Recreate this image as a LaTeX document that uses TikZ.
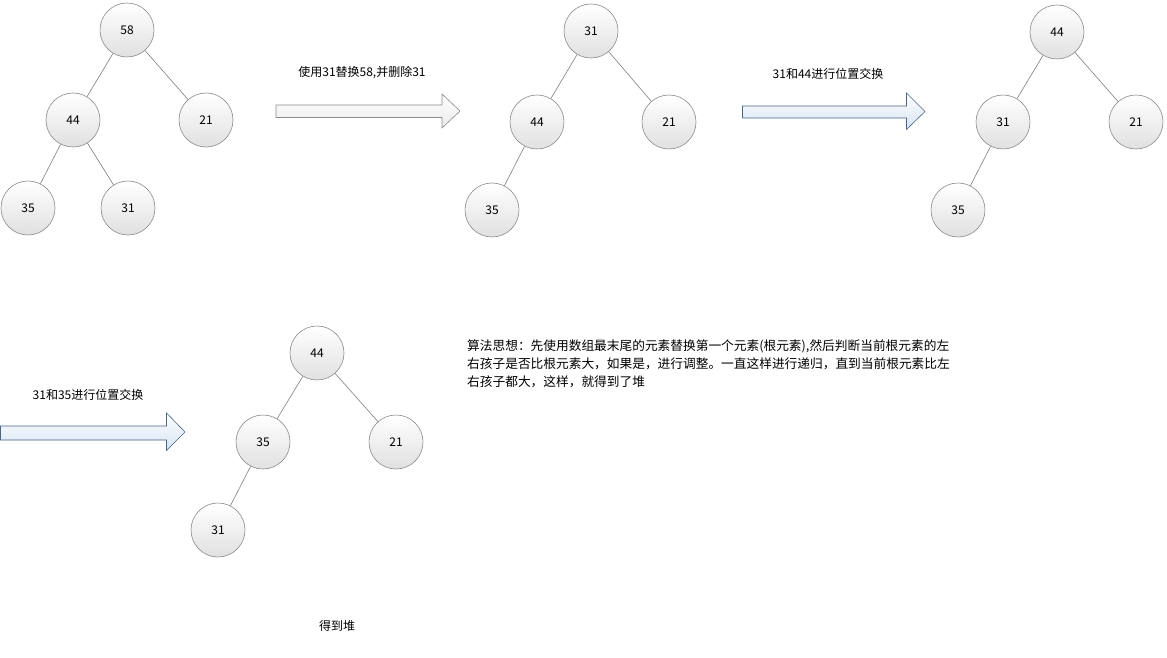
\documentclass[tikz,border=0pt]{standalone}
\usepackage{fontspec}
\setmainfont{Noto Sans CJK SC}
\definecolor{arrowborder}{RGB}{70,100,140}
\definecolor{arrowfill}{RGB}{214,227,243}
\begin{document}
\begin{tikzpicture}[x=1pt,y=-1pt,
  every node/.style={font=\fontsize{12}{18}\selectfont},
  hn/.style={circle,draw=black!45,line width=0.6pt,minimum size=54pt,inner sep=0pt,top color=white,bottom color=black!12},
  ed/.style={draw=black!50,line width=0.6pt},
  grayarrow/.style={draw=black!45,line width=0.6pt,top color=white,bottom color=black!8},
  bluearrow/.style={draw=arrowborder,line width=0.6pt,top color=white,bottom color=arrowfill},
  lbl/.style={inner sep=0pt}]
\useasboundingbox (0,0) rectangle (1167,658);
\fill[white] (0,0) rectangle (1167,658);
% tree 1
\node[hn] (a1) at (127,30) {58};
\node[hn] (a2) at (73,120) {44};
\node[hn] (a3) at (206,120) {21};
\node[hn] (a4) at (28,208) {35};
\node[hn] (a5) at (128,208) {31};
\draw[ed] (a1)--(a2); \draw[ed] (a1)--(a3); \draw[ed] (a2)--(a4); \draw[ed] (a2)--(a5);
% tree 2
\node[hn] (b1) at (591,31) {31};
\node[hn] (b2) at (537,122) {44};
\node[hn] (b3) at (669,122) {21};
\node[hn] (b4) at (492,210) {35};
\draw[ed] (b1)--(b2); \draw[ed] (b1)--(b3); \draw[ed] (b2)--(b4);
% tree 3
\node[hn] (c1) at (1057,32) {44};
\node[hn] (c2) at (1003,122) {31};
\node[hn] (c3) at (1136,122) {21};
\node[hn] (c4) at (958,210) {35};
\draw[ed] (c1)--(c2); \draw[ed] (c1)--(c3); \draw[ed] (c2)--(c4);
% tree 4
\node[hn] (d1) at (317,353) {44};
\node[hn] (d2) at (263,442) {35};
\node[hn] (d3) at (396,442) {21};
\node[hn] (d4) at (218,530) {31};
\draw[ed] (d1)--(d2); \draw[ed] (d1)--(d3); \draw[ed] (d2)--(d4);
% arrows
\path[grayarrow] (276,105) -- (442,105) -- (442,94) -- (460,111) -- (442,128) -- (442,117.5) -- (276,117.5) -- cycle;
\path[bluearrow] (742.5,106) -- (906.5,106) -- (906.5,93) -- (925,111.5) -- (906.5,129.5) -- (906.5,118) -- (742.5,118) -- cycle;
\path[bluearrow] (0.5,426) -- (166.5,426) -- (166.5,413) -- (185,432) -- (166.5,450.5) -- (166.5,440) -- (0.5,440) -- cycle;
% labels
\node[lbl] (l1) at (362,73) {使用31替换58,并删除31};
\node[lbl] (l2) at (828,74) {31和44进行位置交换};
\node[lbl] (l3) at (88,395) {31和35进行位置交换};
\node[lbl] (l4) at (337,626) {得到堆};
\node[lbl,anchor=north west,align=left,font=\fontsize{12.7}{18}\selectfont] (p) at (467,340) {算法思想：先使用数组最末尾的元素替换第一个元素(根元素),然后判断当前根元素的左\\右孩子是否比根元素大，如果是，进行调整。一直这样进行递归，直到当前根元素比左\\右孩子都大，这样，就得到了堆};
\end{tikzpicture}
\end{document}
